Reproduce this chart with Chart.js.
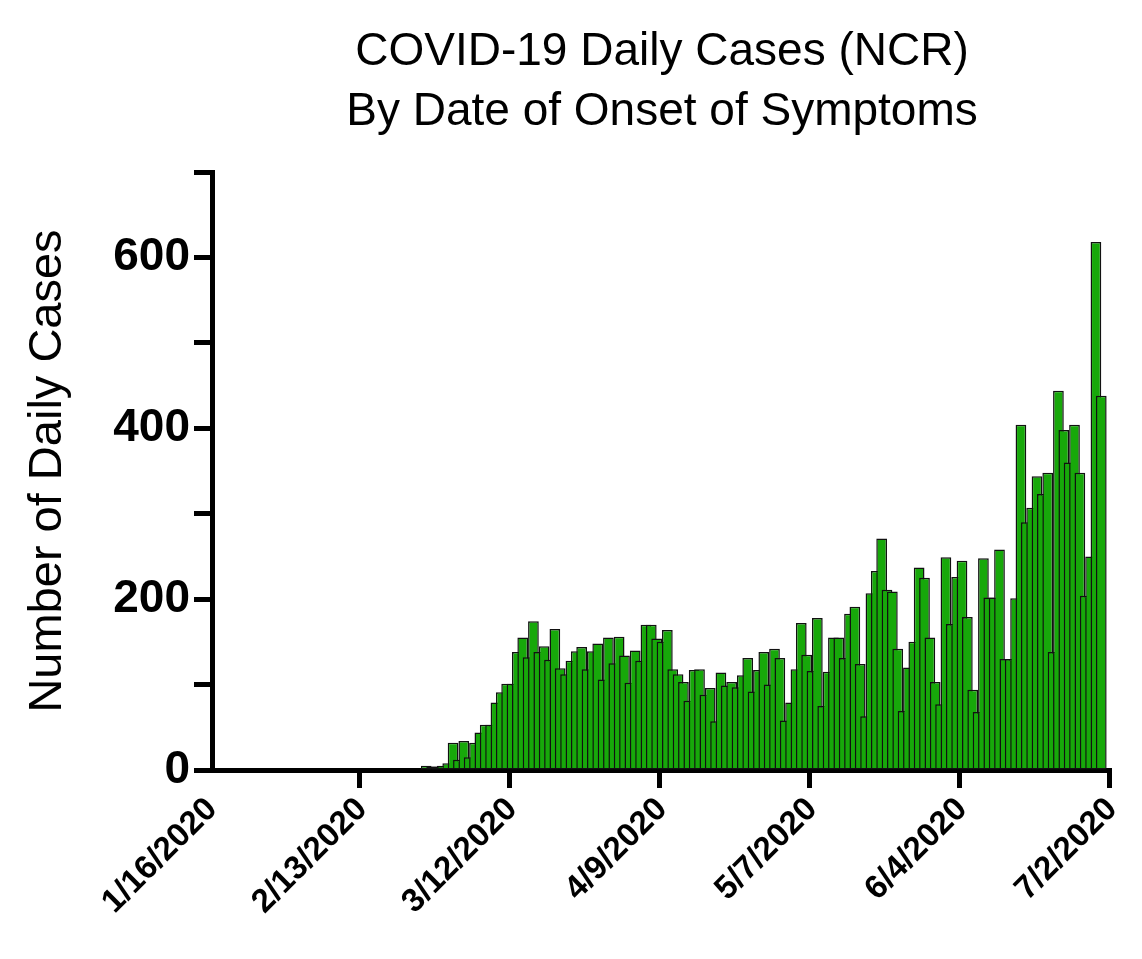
<!DOCTYPE html>
<html>
<head>
<meta charset="utf-8">
<script src="https://cdn.jsdelivr.net/npm/chart.js@4.4.0/dist/chart.umd.min.js"></script>
<style>
  html, body { margin: 0; padding: 0; background: #fff; }
  #wrap { width: 1142px; height: 959px; }
</style>
</head>
<body>
<div id="wrap"><canvas id="chart" width="1142" height="959"></canvas></div>
<script>
// Daily cases by onset date, day 0 = 1/16/2020
const startDate = new Date(2020, 0, 16);
const totalDays = 168;
const dailyCases = [
    0, 0, 0, 0, 0, 0, 0, 0, 0, 0, 0, 0, 0, 0, 0, 0, 0, 0, 0, 0,
    0, 0, 0, 0, 0, 0, 0, 0, 0, 0, 0, 0, 0, 0, 0, 0, 0, 0, 0, 0,
    5, 4, 4, 5, 8, 32, 12, 34, 15, 32, 44, 53, 53, 79, 91, 101, 101, 138, 155, 132,
    174, 138, 145, 129, 165, 119, 112, 128, 139, 144, 118, 139, 148, 106, 155, 125, 156, 134, 102, 140,
    128, 170, 170, 154, 150, 164, 118, 112, 103, 81, 117, 118, 88, 96, 57, 114, 99, 103, 97, 111,
    131, 92, 117, 138, 100, 142, 131, 58, 79, 118, 172, 135, 116, 178, 75, 115, 155, 155, 131, 183,
    191, 124, 63, 207, 233, 271, 211, 209, 142, 69, 120, 150, 237, 225, 155, 103, 77, 249, 171, 226,
    245, 179, 94, 68, 248, 202, 202, 258, 130, 130, 201, 404, 290, 307, 344, 323, 348, 138, 444, 398,
    360, 404, 348, 204, 250, 618, 438
];
const tickEvery = 28;
const yTicksLabelled = [0, 200, 400, 600];
const titleLines = ['COVID-19 Daily Cases (NCR)', 'By Date of Onset of Symptoms'];

// one label per day, from 1/16 to 7/2
const dayLabels = [];
for (let i = 0; i <= totalDays; i++) {
    const d = new Date(startDate.getTime() + i * 86400000);
    dayLabels.push((d.getMonth() + 1) + '/' + d.getDate() + '/' + d.getFullYear());
}

const fontFamily = "'Liberation Sans', Arial, Helvetica, sans-serif";

// title centred over the plot area rather than the whole canvas
const plotTitle = {
    id: 'plotTitle',
    afterDraw(chart) {
        const ctx = chart.ctx;
        const area = chart.chartArea;
        const cx = (area.left + area.right) / 2;
        ctx.save();
        ctx.fillStyle = '#000';
        ctx.font = '46px ' + fontFamily;
        ctx.textAlign = 'center';
        ctx.textBaseline = 'middle';
        ctx.fillText(titleLines[0], cx, 52);
        ctx.fillText(titleLines[1], cx, 112);
        ctx.restore();
    }
};

new Chart(document.getElementById('chart'), {
    type: 'bar',
    data: {
        labels: dayLabels,
        datasets: [{
            data: dailyCases,
            backgroundColor: '#17a80a',
            borderColor: '#111',
            borderWidth: 1.5,
            borderSkipped: false,
            barPercentage: 2.0,
            categoryPercentage: 1.0
        }]
    },
    plugins: [plotTitle],
    options: {
        responsive: false,
        animation: false,
        layout: { padding: { left: 0, right: 30, top: 172, bottom: 0 } },
        plugins: {
            legend: { display: false },
            tooltip: { enabled: false },
            title: { display: false }
        },
        scales: {
            x: {
                offset: false,
                afterFit: scale => { scale.height = 189; },
                grid: {
                    drawOnChartArea: false,
                    drawTicks: true,
                    tickLength: 18,
                    tickWidth: 5,
                    color: ctx => (ctx.index % tickEvery === 0 ? '#000' : 'rgba(0,0,0,0)')
                },
                border: { display: true, color: '#000', width: 5 },
                ticks: {
                    autoSkip: false,
                    maxRotation: 45,
                    minRotation: 45,
                    color: '#000',
                    padding: 2,
                    font: { family: fontFamily, size: 33, weight: 'bold' },
                    callback: function(value, index) {
                        return index % tickEvery === 0 ? dayLabels[index] : '';
                    }
                }
            },
            y: {
                min: 0,
                max: 700,
                afterFit: scale => { scale.width = 212; },
                grid: {
                    drawOnChartArea: false,
                    tickLength: 18,
                    tickWidth: 5,
                    color: '#000'
                },
                border: { display: true, color: '#000', width: 5 },
                ticks: {
                    stepSize: 100,
                    color: '#000',
                    padding: 4,
                    font: { family: fontFamily, size: 46, weight: 'bold' },
                    callback: v => (yTicksLabelled.includes(v) ? v : '')
                },
                title: {
                    display: true,
                    text: 'Number of Daily Cases',
                    color: '#000',
                    font: { family: fontFamily, size: 47, weight: 'normal' },
                    padding: { top: 20, bottom: 8 }
                }
            }
        }
    }
});
</script>
</body>
</html>
